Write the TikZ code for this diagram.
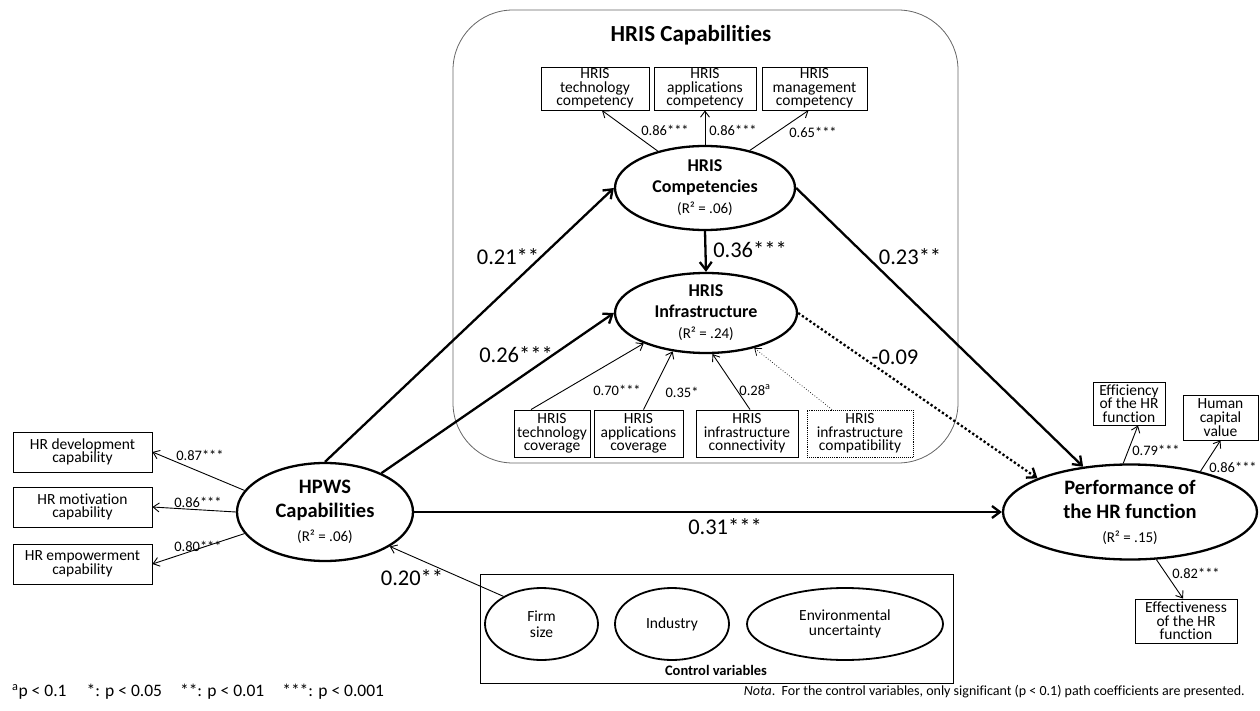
\documentclass[tikz,border=0pt]{standalone}
\usepackage{fontspec}
\setmainfont{Carlito}[Ligatures=NoCommon]
\usetikzlibrary{arrows.meta,shapes.geometric}
\begin{document}
\begin{tikzpicture}[x=1pt,y=-1pt,
 box/.style={draw,line width=0.9pt,align=center,inner sep=0pt,font=\fontsize{15.5}{13.6}\selectfont},
 lat/.style={draw,ellipse,line width=2.3pt,align=center,inner sep=0pt},
 ctl/.style={draw,ellipse,line width=1.8pt,align=center,inner sep=0pt,font=\fontsize{15.5}{15.5}\selectfont},
 thk/.style={line width=2.3pt,-{Straight Barb[length=8pt,width=12pt]}},
 thn/.style={line width=0.9pt,-{Straight Barb[length=6pt,width=9pt]}},
 dotthk/.style={line width=2.3pt,dash pattern=on 2.3pt off 2.3pt,-{Straight Barb[length=8pt,width=12pt]}},
 dotthn/.style={line width=0.7pt,dotted,-{Straight Barb[length=6pt,width=9pt]}},
 lbl/.style={font=\fontsize{14.5}{14.5}\selectfont,inner sep=0pt},
 big/.style={font=\fontsize{22.5}{22.5}\selectfont,inner sep=0pt}
]
\useasboundingbox (0,0) rectangle (1260,711);

% HRIS capabilities frame
\node[draw,gray!80!black,line width=0.8pt,rounded corners=60pt,minimum width=505,minimum height=453,inner sep=0pt] (hris) at (705.5,236.5) {};
\node[font=\fontsize{23}{23}\selectfont\bfseries,inner sep=0pt] (title) at (691,35) {HRIS Capabilities};

% competency indicators
\node[box,minimum width=108,minimum height=43] (tc1) at (595,88.5) {HRIS\\technology\\competency};
\node[box,minimum width=102,minimum height=43] (tc2) at (705,88.5) {HRIS\\applications\\competency};
\node[box,minimum width=105,minimum height=43] (tc3) at (814.5,88.5) {HRIS\\management\\competency};

% latent variables
\node[lat,minimum width=180,minimum height=84,font=\fontsize{18}{21}\selectfont\bfseries] (comp) at (705,188)
 {HRIS\\Competencies\\{\fontsize{15}{15}\selectfont\mdseries (R² = .06)}};
\node[lat,minimum width=182,minimum height=80,font=\fontsize{18}{21}\selectfont\bfseries] (infra) at (706,313)
 {HRIS\\Infrastructure\\{\fontsize{15}{15}\selectfont\mdseries (R² = .24)}};
\node[lat,minimum width=176,minimum height=98,font=\fontsize{20.5}{24}\selectfont\bfseries] (hpws) at (325,512)
 {HPWS\\Capabilities\\{\fontsize{15}{15}\selectfont\mdseries (R² = .06)}};
\node[lat,minimum width=254,minimum height=95,font=\fontsize{20.5}{24}\selectfont\bfseries] (perf) at (1130,512)
 {Performance of\\the HR function\\{\fontsize{15}{15}\selectfont\mdseries (R² = .15)}};

% infrastructure indicators
\node[box,minimum width=76,minimum height=47] (ic1) at (552,433.5) {HRIS\\technology\\coverage};
\node[box,minimum width=89,minimum height=47] (ic2) at (638.5,433.5) {HRIS\\applications\\coverage};
\node[box,minimum width=102,minimum height=47] (ic3) at (747,433.5) {HRIS\\infrastructure\\connectivity};
\node[box,densely dotted,line width=0.8pt,minimum width=106,minimum height=47] (ic4) at (860,433.5) {HRIS\\infrastructure\\compatibility};

% HPWS indicators
\node[box,minimum width=139,minimum height=40] (hr1) at (82.5,452) {HR development\\capability};
\node[box,minimum width=139,minimum height=40] (hr2) at (82.5,507) {HR motivation\\capability};
\node[box,minimum width=139,minimum height=40] (hr3) at (82.5,564) {HR empowerment\\capability};

% performance indicators
\node[box,minimum width=72,minimum height=43] (eff) at (1129,403.5) {Efficiency\\of the HR\\function};
\node[box,minimum width=75,minimum height=45] (hum) at (1220.5,417.5) {Human\\capital\\value};
\node[box,minimum width=102,minimum height=44] (effc) at (1186,621) {Effectiveness\\of the HR\\function};

% control variables
\node[draw,line width=0.9pt,minimum width=473,minimum height=109,inner sep=0pt] (ctrl) at (716.5,628.5) {};
\node[ctl,minimum width=113,minimum height=72] (firm) at (541.5,624) {Firm\\size};
\node[ctl,minimum width=114,minimum height=72] (ind) at (672,624) {Industry};
\node[ctl,minimum width=196,minimum height=72] (env) at (845,624) {Environmental\\uncertainty};
\node[font=\fontsize{14.5}{14.5}\selectfont\bfseries,inner sep=0pt] (ctrltxt) at (716,670) {Control variables};

% connectors: indicators
\draw[thn] (comp.142) -- ([xshift=7pt]tc1.south);
\draw[thn] (comp.north) -- (tc2.south);
\draw[thn] (comp.40) -- ([xshift=-6pt]tc3.south);
\draw[thn] ([xshift=-21pt]ic1.north) -- (infra.206);
\draw[thn] ([xshift=5pt]ic2.north) -- (infra.229);
\draw[thn] ([xshift=3pt]ic3.north) -- (infra.279);
\draw[dotthn] ([xshift=-28pt]ic4.north) -- (infra.324);
\draw[thn] (hpws.165) -- (hr1.east);
\draw[thn] (hpws.west) -- (hr2.east);
\draw[thn] (hpws.195) -- (hr3.east);
\draw[thn] (perf.98) -- ([xshift=9pt]eff.south);
\draw[thn] (perf.30) -- (hum.south);
\draw[thn] (perf.299) -- ([xshift=-3pt]effc.north);
\draw[thn] (firm.144) -- (hpws.332);

% structural paths
\draw[thk] (comp.south) -- (infra.north);
\draw[thk] (hpws.north) -- (comp.west);
\draw[thk] (hpws) -- (infra.west);
\draw[thk] (hpws.east) -- (perf.west);
\draw[thk] (comp.east) -- (perf.136);
\draw[dotthk] (infra.east) -- (perf.160);

% labels
\node[lbl] (l1) at (665,130) {0.86***};
\node[lbl] (l2) at (733,130) {0.86***};
\node[lbl] (l3) at (813,132) {0.65***};
\node[lbl] (l4) at (617,390) {0.70***};
\node[lbl] (l5) at (682,392) {0.35*};
\node[lbl] (l6) at (755,390) {0.28\textsuperscript{a}};
\node[lbl] (l7) at (200,455) {0.87***};
\node[lbl] (l8) at (198,502) {0.86***};
\node[lbl] (l9) at (198,546) {0.80***};
\node[lbl] (l10) at (1156,450) {0.79***};
\node[lbl] (l11) at (1233,467) {0.86***};
\node[lbl] (l12) at (1196,573) {0.82***};
\node[big] (b1) at (508,257) {0.21**};
\node[big] (b2) at (516,355) {0.26***};
\node[big] (b3) at (750,250) {0.36***};
\node[big] (b4) at (910,257) {0.23**};
\node[big] (b5) at (895,357) {-0.09};
\node[big] (b6) at (725,527) {0.31***};
\node[big] (b7) at (412,578) {0.20**};

% footnotes
\node[font=\fontsize{17.5}{17.5}\selectfont,inner sep=0pt,anchor=west] (fn1) at (12,692)
 {\textsuperscript{a}p < 0.1\hspace{20pt}*: p < 0.05\hspace{18pt}**: p < 0.01\hspace{18pt}***: p < 0.001};
\node[font=\fontsize{14}{14}\selectfont,inner sep=0pt,anchor=east] (fn2) at (1245,692)
 {\textit{Nota}.\ \ For the control variables, only significant (p < 0.1) path coefficients are presented.};
\end{tikzpicture}
\end{document}
